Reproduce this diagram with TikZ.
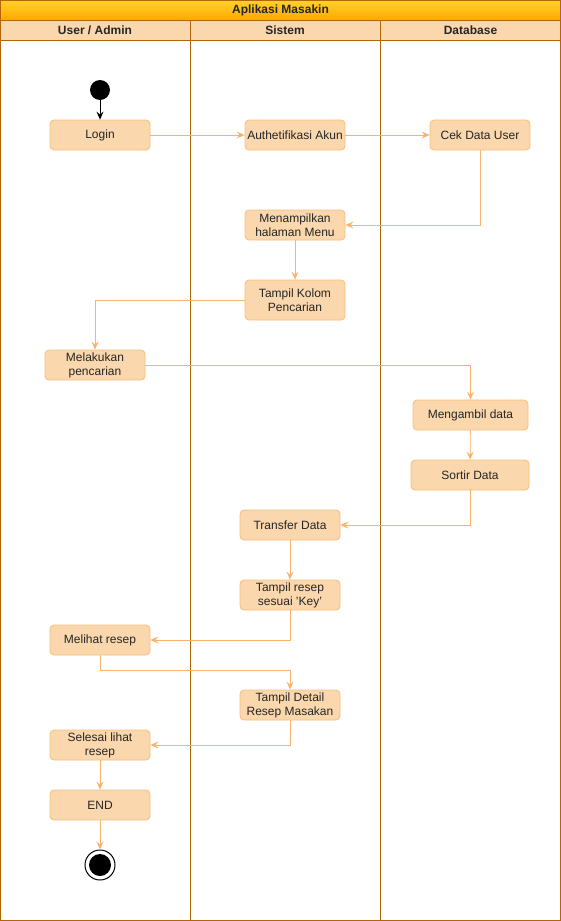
\documentclass[tikz,border=0pt]{standalone}
\usepackage{fontspec}
\setmainfont{Liberation Sans}
\usetikzlibrary{arrows.meta}

\definecolor{laneline}{HTML}{B46504}
\definecolor{boxfill}{HTML}{FAD7AC}
\definecolor{boxline}{HTML}{F5BE7C}
\definecolor{flowline}{HTML}{F8B46E}
\definecolor{titletop}{HTML}{FFD22E}
\definecolor{titlebot}{HTML}{FFA800}

\tikzset{
  act/.style={draw=boxline,fill=boxfill,rounded corners=4pt,minimum width=100pt,
    minimum height=30pt,align=center,inner sep=1pt,text=black!85,line width=0.8pt,
    font=\fontsize{12}{14}\selectfont},
  flow/.style={draw=flowline,line width=0.8pt,-{Stealth[length=8pt,width=7pt,inset=3pt]}},
  hdr/.style={font=\bfseries\fontsize{12}{14}\selectfont,text=black!85}
}

\begin{document}
\begin{tikzpicture}[x=1pt,y=-1pt]
    \useasboundingbox (0,0) rectangle (561,921);

    % swimlanes
    \shade[top color=titletop,bottom color=titlebot] (0,0) rectangle (561,20);
    \fill[boxfill] (0,20) rectangle (561,40);
    \begin{scope}[laneline,line width=0.8pt]
    \draw (0.5,0.5) rectangle (560.5,920.5);
    \draw (0.5,20) -- (560.5,20);
    \draw (0.5,40) -- (560.5,40);
    \draw (190,20) -- (190,920.5);
    \draw (380,20) -- (380,920.5);
    \end{scope}

    \node[hdr] (title) at (280.5,10) {Aplikasi Masakin};
    \node[hdr] (laneuser) at (95,30) {User / Admin};
    \node[hdr] (lanesys) at (285,30) {Sistem};
    \node[hdr] (lanedb) at (470.5,30) {Database};

    % activities
    \node[circle,fill=black,minimum size=20pt,inner sep=0pt] (start) at (100,90) {};
    \node[act] (login) at (100,135) {Login};
    \node[act] (auth) at (295,135) {Authetifikasi Akun};
    \node[act] (cek) at (480,135) {Cek Data User};
    \node[act] (menu) at (295,225) {Menampilkan\\halaman Menu};
    \node[act,minimum height=40pt] (kolom) at (295,300) {Tampil Kolom\\Pencarian};
    \node[act] (cari) at (95,365) {Melakukan\\pencarian};
    \node[act,minimum width=115pt] (ambil) at (470.5,415) {Mengambil data};
    \node[act,minimum width=118pt] (sortir) at (470,475) {Sortir Data};
    \node[act] (transfer) at (290,525) {Transfer Data};
    \node[act] (resep) at (290,595) {Tampil resep\\sesuai 'Key'};
    \node[act] (lihat) at (100,640) {Melihat resep};
    \node[act] (detail) at (290,705) {Tampil Detail\\Resep Masakan};
    \node[act] (selesai) at (100,745) {Selesai lihat\\resep};
    \node[act] (endbox) at (100,805) {END};
    \node[circle,draw=black,line width=1pt,minimum size=30pt,inner sep=0pt] (stop) at (100,865) {};
    \node[circle,fill=black,minimum size=22pt,inner sep=0pt] (stopdot) at (stop.center) {};

    % flows
    \draw[line width=0.8pt,-{Stealth[length=8pt,width=7pt,inset=3pt]}] (start) -- (login);
    \draw[flow] (login) -- (auth);
    \draw[flow] (auth) -- (cek);
    \draw[flow] (cek.south) |- (menu.east);
    \draw[flow] (menu) -- (kolom);
    \draw[flow] (kolom.west) -| (cari.north);
    \draw[flow] (cari.east) -| (ambil.north);
    \draw[flow] (ambil) -- (sortir);
    \draw[flow] (sortir.south) |- (transfer.east);
    \draw[flow] (transfer) -- (resep);
    \draw[flow] (resep.south) |- (lihat.east);
    \draw[flow] (lihat.south) -- ++(0,15) -| (detail.north);
    \draw[flow] (detail.south) |- (selesai.east);
    \draw[flow] (selesai) -- (endbox);
    \draw[flow] (endbox) -- (stop);
\end{tikzpicture}
\end{document}
